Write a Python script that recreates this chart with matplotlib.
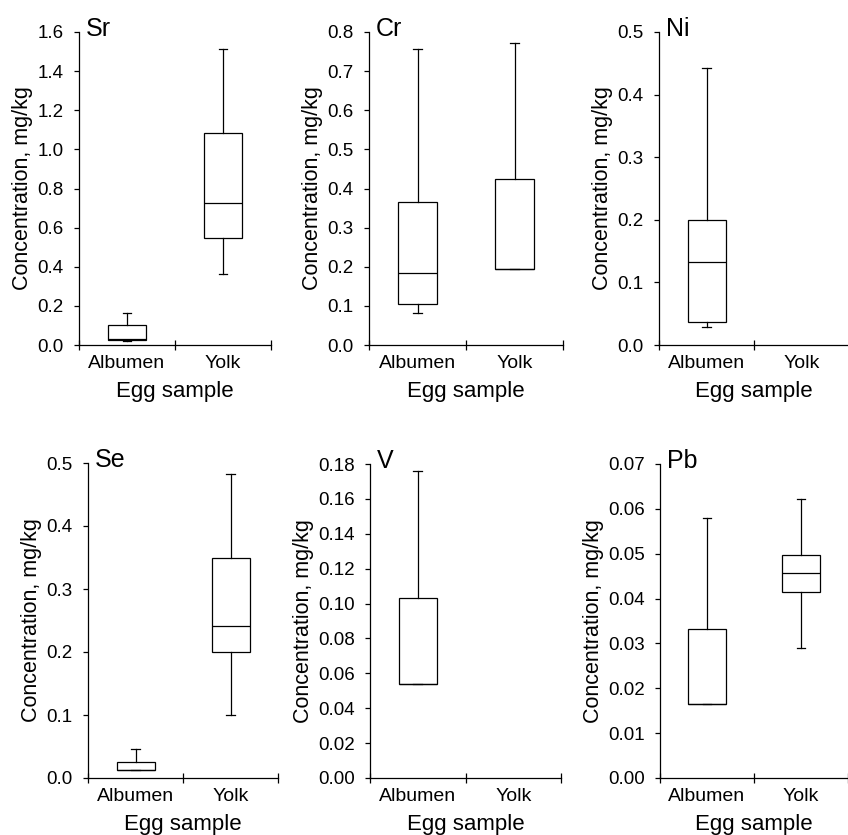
import numpy as np
import matplotlib
matplotlib.use("Agg")
import matplotlib.pyplot as plt
from matplotlib.ticker import FixedLocator, FormatStrFormatter

plt.rcParams["font.family"] = ["Liberation Sans", "DejaVu Sans"]

# box plot stats, one entry per element, [albumen, yolk]
elements = ["Sr", "Cr", "Ni", "Se", "V", "Pb"]
categories = ["Albumen", "Yolk"]
whisker_low = [[0.020, 0.365], [0.083, 0.195], [0.029, None], [0.012, 0.100], [0.054, None], [0.0165, 0.029]]
q1 = [[0.025, 0.545], [0.105, 0.195], [0.037, None], [0.012, 0.200], [0.054, None], [0.0165, 0.0414]]
median = [[0.033, 0.725], [0.185, 0.195], [0.133, None], [0.013, 0.241], [0.054, None], [0.0165, 0.0456]]
q3 = [[0.100, 1.085], [0.365, 0.425], [0.199, None], [0.026, 0.349], [0.103, None], [0.0332, 0.0498]]
whisker_high = [[0.165, 1.515], [0.757, 0.771], [0.442, None], [0.046, 0.483], [0.176, None], [0.058, 0.0623]]

y_max = [1.6, 0.8, 0.5, 0.5, 0.18, 0.07]
y_step = [0.2, 0.1, 0.1, 0.1, 0.02, 0.01]
y_fmt = ["%.1f", "%.1f", "%.1f", "%.1f", "%.2f", "%.2f"]

W, H = 848, 835
# panel boxes in pixels: left, right, top, bottom
panels = [
    (79, 271, 32, 345), (369, 563, 32, 345), (659, 849, 32, 345),
    (88, 278, 463, 778), (370, 561, 464, 778), (660, 848, 464, 778),
]

fig = plt.figure(figsize=(W / 100, H / 100), dpi=100)

for i, name in enumerate(elements):
    l, r, t, b = panels[i]
    ax = fig.add_axes([l / W, 1 - b / H, (r - l) / W, (b - t) / H])

    stats, pos = [], []
    for j in range(len(categories)):
        if median[i][j] is None:
            continue
        stats.append(dict(whislo=whisker_low[i][j], q1=q1[i][j], med=median[i][j],
                          q3=q3[i][j], whishi=whisker_high[i][j], fliers=[]))
        pos.append(j + 1)

    ax.bxp(stats, positions=pos, widths=0.4, capwidths=0.09, patch_artist=True,
           showfliers=False,
           boxprops=dict(facecolor="white", edgecolor="black", linewidth=0.9),
           medianprops=dict(color="black", linewidth=0.9),
           whiskerprops=dict(color="black", linewidth=0.9),
           capprops=dict(color="black", linewidth=0.9))

    ax.set_xlim(0.5, 2.5)
    ax.set_ylim(0, y_max[i])
    ax.set_xticks([1, 2])
    ax.set_xticklabels(categories)
    ax.xaxis.set_minor_locator(FixedLocator([0.5, 1.5, 2.5]))
    ax.tick_params(axis="x", which="major", length=0, labelsize=14, pad=7)
    ax.tick_params(axis="x", which="minor", length=6.5, direction="inout", width=0.9)
    ticks = np.round(np.arange(0, y_max[i] + y_step[i] / 2, y_step[i]), 4)
    ax.set_yticks(ticks)
    ax.yaxis.set_major_formatter(FormatStrFormatter(y_fmt[i]))
    ax.tick_params(axis="y", length=3.5, width=0.9, labelsize=13.5, pad=7.5)

    for s in ["top", "right"]:
        ax.spines[s].set_visible(False)
    for s in ["left", "bottom"]:
        ax.spines[s].set_linewidth(0.9)

    ax.set_xlabel("Egg sample", fontsize=16, labelpad=6.5)
    ax.set_ylabel("Concentration, mg/kg", fontsize=15.5, labelpad=3)

    ax.annotate(name, xy=(0, 1), xycoords="axes fraction", xytext=(5, -3),
                textcoords="offset points", ha="left", va="baseline", fontsize=18)

fig.savefig("out.png", dpi=100)
